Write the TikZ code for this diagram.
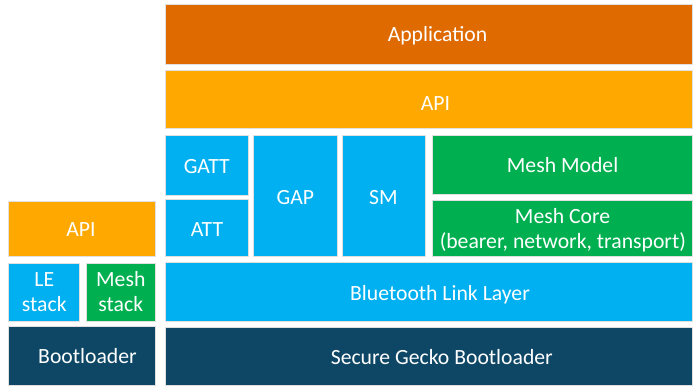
\documentclass[tikz,border=0pt]{standalone}
\usepackage{fontspec}
\setmainfont{Carlito}
\definecolor{appc}{RGB}{222,106,0}
\definecolor{apic}{RGB}{255,168,0}
\definecolor{bluec}{RGB}{0,176,240}
\definecolor{greenc}{RGB}{0,176,80}
\definecolor{darkc}{RGB}{14,71,102}
\begin{document}
\begin{tikzpicture}[x=1pt,y=-1pt,
  blk/.style={draw=white!88!black, line width=0.5pt, inner sep=0pt, outer sep=0pt, anchor=north west},
  lbl/.style={text=white, inner sep=0pt, anchor=base, font=\fontsize{21.7}{26}\selectfont}]
\useasboundingbox[fill=white] (0,0) rectangle (697,391);
% right stack
\node[blk, fill=appc,   minimum width=527pt,   minimum height=59.3pt] (app)   at (165.7,4.7) {};
\node[blk, fill=apic,   minimum width=527pt,   minimum height=58pt]   (api)   at (165.7,70.7) {};
\node[blk, fill=bluec,  minimum width=82.6pt,  minimum height=59.7pt] (gatt)  at (165.7,135.3) {};
\node[blk, fill=bluec,  minimum width=82.6pt,  minimum height=57pt]   (att)   at (165.7,199) {};
\node[blk, fill=bluec,  minimum width=84pt,    minimum height=120.7pt] (gap)  at (253.3,135.3) {};
\node[blk, fill=bluec,  minimum width=83pt,    minimum height=120.7pt] (sm)   at (342,135.3) {};
\node[blk, fill=greenc, minimum width=260.2pt, minimum height=59.2pt] (model) at (432.5,135.3) {};
\node[blk, fill=greenc, minimum width=260.2pt, minimum height=56.5pt] (core)  at (432.5,200) {};
\node[blk, fill=bluec,  minimum width=527pt,   minimum height=58.5pt] (link)  at (165.7,262.5) {};
\node[blk, fill=darkc,  minimum width=527pt,   minimum height=58.9pt] (sgb)   at (165.7,326.8) {};
% left stack
\node[blk, fill=apic,   minimum width=146.7pt, minimum height=55pt]   (lapi)  at (8.3,201) {};
\node[blk, fill=bluec,  minimum width=71pt,    minimum height=57.7pt] (le)    at (8.3,263.3) {};
\node[blk, fill=greenc, minimum width=68.3pt,  minimum height=57.7pt] (ms)    at (86.7,263.3) {};
\node[blk, fill=darkc,  minimum width=146.7pt, minimum height=59.2pt] (boot)  at (8.3,326.5) {};
% labels
\node[lbl] (tapp)   at (437.5,41.7)  {Application};
\node[lbl] (tapi)   at (435.5,110)   {API};
\node[lbl] (tgatt)  at (206.8,173.3) {GATT};
\node[lbl] (tatt)   at (207,236)     {ATT};
\node[lbl] (tgap)   at (295.3,204)   {GAP};
\node[lbl] (tsm)    at (383.3,204)   {SM};
\node[lbl] (tmodel) at (562.6,172.7) {Mesh Model};
\node[lbl] (tcore1) at (562.6,223.3) {Mesh Core};
\node[lbl] (tcore2) at (562.8,248.3) {(bearer, network, transport)};
\node[lbl] (tlink)  at (440,300)     {Bluetooth Link Layer};
\node[lbl] (tsgb)   at (441.8,364.5) {Secure Gecko Bootloader};
\node[lbl] (tlapi)  at (81,236)      {API};
\node[lbl] (tle1)   at (44.3,286.7)  {LE};
\node[lbl] (tle2)   at (44.3,311)    {stack};
\node[lbl] (tms1)   at (120.8,286.7) {Mesh};
\node[lbl] (tms2)   at (120.8,311)   {stack};
\node[lbl] (tboot)  at (87.5,363.3)  {Bootloader};
\end{tikzpicture}
\end{document}
